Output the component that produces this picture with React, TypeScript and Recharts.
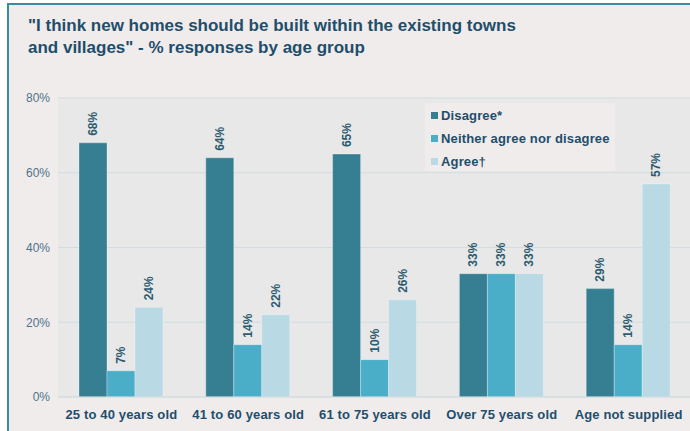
import { Bar, BarChart, CartesianGrid, LabelList, XAxis, YAxis } from 'recharts'

const ageGroups = ['25 to 40 years old', '41 to 60 years old', '61 to 75 years old', 'Over 75 years old', 'Age not supplied']
const disagree = [68, 64, 65, 33, 29]
const neither = [7, 14, 10, 33, 14]
const agree = [24, 22, 26, 33, 57]
const yTicks = [0, 20, 40, 60, 80]

const seriesInfo = [
  { key: 'disagree', name: 'Disagree*', color: '#367f93' },
  { key: 'neither', name: 'Neither agree nor disagree', color: '#4aaec8' },
  { key: 'agree', name: 'Agree†', color: '#b9d9e4' },
]

const FONT = '"Liberation Sans", Arial, sans-serif'
const DARK = '#1f4e6b'

const data = ageGroups.map((g, i) => ({
  group: g,
  disagree: disagree[i],
  neither: neither[i],
  agree: agree[i],
}))

function RotLabel(props: any) {
  const { x, y, width, value } = props
  const cx = x + width / 2
  const ty = y - 7
  return (
    <text
      x={cx}
      y={ty}
      transform={`rotate(-90 ${cx} ${ty})`}
      textAnchor="start"
      dominantBaseline="central"
      fontSize={12}
      fontWeight="bold"
      fill="#2c5b70"
      fontFamily={FONT}
    >
      {`${value}%`}
    </text>
  )
}

function LegendBox() {
  return (
    <div
      style={{
        position: 'absolute',
        left: 425,
        top: 103,
        width: 190,
        height: 68,
        background: '#f0ecec',
        padding: '1px 0 0 6px',
        boxSizing: 'border-box',
        fontFamily: FONT,
      }}
    >
      {seriesInfo.map((s) => (
        <div key={s.key} style={{ display: 'flex', alignItems: 'center', height: 23 }}>
          <span style={{ display: 'inline-block', width: 7, height: 7, background: s.color, marginRight: 3 }} />
          <span style={{ fontSize: 13, letterSpacing: 0.15, fontWeight: 'bold', color: DARK }}>{s.name}</span>
        </div>
      ))}
    </div>
  )
}

export default function App() {
  return (
    <div style={{ position: 'absolute', left: 0, top: 0, width: 690, height: 431, overflow: 'hidden', background: '#fff' }}>
      <div
        style={{
          position: 'absolute',
          left: 7,
          top: 3,
          width: 700,
          height: 440,
          background: '#f0ecec',
          borderLeft: '2px solid #3a8aa0',
          borderTop: '2px solid #3a8aa0',
        }}
      />
      <div
        style={{
          position: 'absolute',
          left: 28,
          top: 15,
          fontFamily: FONT,
          fontSize: 17,
          fontWeight: 'bold',
          color: DARK,
          lineHeight: '22px',
        }}
      >
        "I think new homes should be built within the existing towns
        <br />
        and villages" - % responses by age group
      </div>
      <div style={{ position: 'absolute', left: 0, top: 0 }}>
        <BarChart
          width={700}
          height={431}
          data={data}
          margin={{ top: 98, right: 8, bottom: 0, left: 0 }}
          barSize={28}
          barGap={0}
        >
          <CartesianGrid vertical={false} stroke="#d2dcdf" fill="#e8e8e8" />
          <XAxis
            dataKey="group"
            height={34}
            tickLine={false}
            axisLine={{ stroke: '#d2dcdf' }}
            tickMargin={7}
            tick={{ fontSize: 13, letterSpacing: 0.15, fontWeight: 'bold', fill: DARK, fontFamily: FONT }}
            interval={0}
          />
          <YAxis
            width={58}
            domain={[0, 80]}
            ticks={yTicks}
            tickFormatter={(v: number) => `${v}%`}
            tickLine={false}
            axisLine={false}
            tick={{ fontSize: 12, fill: '#4f7389', fontFamily: FONT }}
          />
          {seriesInfo.map((s) => (
            <Bar key={s.key} dataKey={s.key} name={s.name} fill={s.color} stroke="#ffffff" strokeOpacity={0.3} isAnimationActive={false}>
              <LabelList dataKey={s.key} content={RotLabel} />
            </Bar>
          ))}
        </BarChart>
      </div>
      <LegendBox />
    </div>
  )
}
